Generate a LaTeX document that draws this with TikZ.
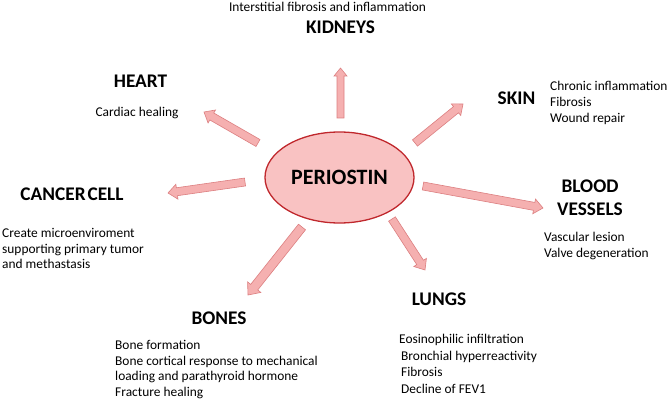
\documentclass[tikz,border=0pt]{standalone}
\usepackage{fontspec}
\setmainfont{Carlito}
\usetikzlibrary{calc,shapes.geometric}
\definecolor{ellfill}{HTML}{F9C2C2}
\definecolor{elldraw}{HTML}{C0282D}
\definecolor{arrfill}{HTML}{F5B0B0}
\definecolor{arrdraw}{HTML}{DC7F80}
\tikzset{
  organ/.style={font=\fontsize{19.3}{21}\selectfont\bfseries, inner sep=0pt},
  desc/.style={font=\fontsize{13.4}{15.8}\selectfont, inner sep=0pt, align=left},
  barrow/.style={fill=arrfill, draw=arrdraw, line width=0.6pt, line join=miter},
}
% name, tail, tip, shaft half width, head half width, head length
\newcommand\blockarrow[6]{%
  \coordinate (#1b) at ($(#3)!#6pt!(#2)$);
  \draw[barrow] ($(#2)!#4pt!90:(#3)$) -- ($(#1b)!#4pt!90:(#3)$) -- ($(#1b)!#5pt!90:(#3)$)
    -- (#3) -- ($(#1b)!#5pt!-90:(#3)$) -- ($(#1b)!#4pt!-90:(#3)$) -- ($(#2)!#4pt!-90:(#3)$) -- cycle;
}
\begin{document}
\begin{tikzpicture}[x=1pt,y=-1pt]
\useasboundingbox (0,0) rectangle (670,401);

% centre
\node[ellipse, draw=elldraw, fill=ellfill, line width=1.3pt, minimum width=149pt, minimum height=91pt,
      inner sep=0pt, font=\fontsize{21.9}{24}\selectfont\bfseries] (per) at (339.5,177.5) {PERIOSTIN};

% arrow ends
\coordinate (kidT) at (340.5,118); \coordinate (kidH) at (340.5,68);
\coordinate (skinT) at (415,143);  \coordinate (skinH) at (463,104);
\coordinate (bloodT) at (423,186); \coordinate (bloodH) at (543,208);
\coordinate (lungT) at (392,219);  \coordinate (lungH) at (425,270);
\coordinate (boneT) at (302,227);  \coordinate (boneH) at (248,295);
\coordinate (cancT) at (245,182);  \coordinate (cancH) at (168,193);
\coordinate (heartT) at (258,143); \coordinate (heartH) at (204,112);

\blockarrow{kid}{kidT}{kidH}{3.5}{6.5}{8}
\blockarrow{skin}{skinT}{skinH}{4}{7.5}{9}
\blockarrow{blood}{bloodT}{bloodH}{4}{7.5}{9}
\blockarrow{lung}{lungT}{lungH}{4}{7.5}{9}
\blockarrow{bone}{boneT}{boneH}{4.5}{8.5}{10}
\blockarrow{canc}{cancT}{cancH}{4}{7.5}{9}
\blockarrow{heart}{heartT}{heartH}{4}{7.5}{9}

% kidneys
\node[desc] (kidd) at (327.5,7) {Interstitial fibrosis and inflammation};
\node[organ] (kidn) at (340.5,27) {KIDNEYS};

% heart
\node[organ] (heartn) at (140.5,81) {HEART};
\node[desc] (heartd) at (137,113) {Cardiac healing};

% cancer
\node[organ] (cancn) at (72,194) {CANCER\hspace{0.1em}CELL};
\node[desc, anchor=west] (cancd) at (2,248.5) {Create microenviroment\\supporting primary tumor\\and methastasis};

% bones
\node[organ] (bonen) at (219,318) {BONES};
\node[desc, anchor=west] (boned) at (115,369.5) {Bone formation\\Bone cortical response to mechanical\\loading and parathyroid hormone\\Fracture healing};

% lungs
\node[organ] (lungn) at (439,299) {LUNGS};
\node[desc, anchor=west, font=\fontsize{13.4}{16.6}\selectfont] (lungd) at (399,364) {Eosinophilic infiltration\\\hspace{2pt}Bronchial hyperreactivity\\\hspace{2pt}Fibrosis\\\hspace{2pt}Decline of FEV1};

% blood vessels
\node[organ, align=center, font=\fontsize{19.3}{23}\selectfont\bfseries] (bloodn) at (590,197.5) {BLOOD\\VESSELS};
\node[desc, anchor=west] (bloodd) at (544,246) {Vascular lesion\\Valve degeneration};

% skin
\node[organ] (skinn) at (516.5,98) {SKIN};
\node[desc, anchor=west] (skind) at (550,103) {Chronic inflammation\\Fibrosis\\Wound repair};
\end{tikzpicture}
\end{document}
